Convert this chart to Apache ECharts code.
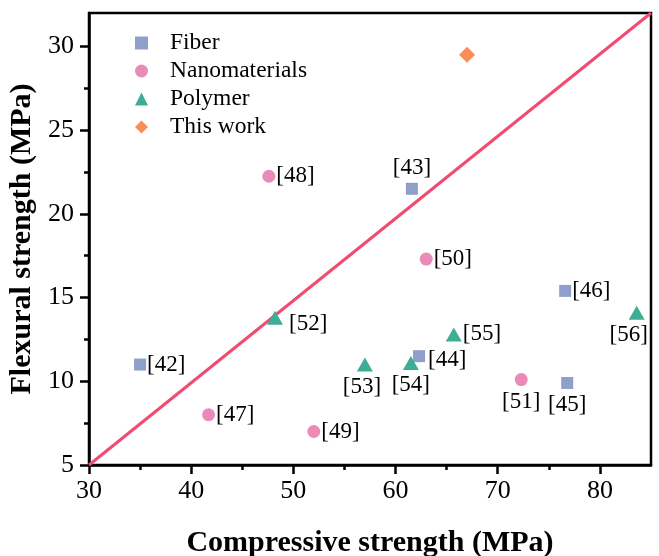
<!DOCTYPE html>
<html>
<head>
<meta charset="utf-8">
<script src="https://cdn.jsdelivr.net/npm/echarts@6/dist/echarts.min.js"></script>
<style>html,body{margin:0;padding:0;background:#fff}#c{width:659px;height:556px}</style>
</head>
<body>
<div id="c"></div>
<script>
// ---- data ----
const xTicks = [30, 40, 50, 60, 70, 80];
const xMinorTicks = [35, 45, 55, 65, 75];
const yTicks = [5, 10, 15, 20, 25, 30];
const yMinorTicks = [7.5, 12.5, 17.5, 22.5, 27.5];

const fiberX = [35.0, 61.6, 62.3, 76.8, 76.6];
const fiberY = [11.0, 21.5, 11.5, 9.9, 15.4];
const fiberRefs = ['[42]', '[43]', '[44]', '[45]', '[46]'];

const nanoX = [41.7, 47.6, 52.0, 63.0, 72.3];
const nanoY = [8.0, 22.25, 7.0, 17.3, 10.1];
const nanoRefs = ['[47]', '[48]', '[49]', '[50]', '[51]'];

const polyX = [48.2, 57.0, 61.5, 65.7, 83.6];
const polyY = [13.8, 11.0, 11.1, 12.8, 14.1];
const polyRefs = ['[52]', '[53]', '[54]', '[55]', '[56]'];

const thisX = [67.0];
const thisY = [29.5];

const refLineX = [30, 85];
const refLineY = [5, 32];

// ---- styles ----
const FONT = '"Liberation Serif", "Times New Roman", serif';
const labelStyle = {
  '[43]': { position: 'top', distance: 3 },
  '[45]': { position: 'bottom', distance: 4 },
  '[51]': { position: 'bottom', distance: 4 },
  '[53]': { position: 'bottom', distance: 4, offset: [-3, 0] },
  '[54]': { position: 'bottom', distance: 4 },
  '[56]': { position: 'bottom', distance: 4, offset: [-8, 0] },
  '[52]': { position: 'right', distance: 6, offset: [0, 6] },
  '[44]': { position: 'right', distance: 3, offset: [0, 4] }
};
function pts(xs, ys, refs) {
  return xs.map((x, i) => {
    const d = { value: [x, ys[i]], name: refs ? refs[i] : '' };
    if (refs) {
      const s = labelStyle[refs[i]] || { position: 'right', distance: 1 };
      d.label = Object.assign({ show: true, formatter: refs[i] }, s);
    }
    return d;
  });
}
const lbl = { show: true, color: '#000', fontFamily: FONT, fontSize: 23, position: 'right', distance: 1 };

const chart = echarts.init(document.getElementById('c'), null, { renderer: 'canvas' });
const axisBase = {
  axisLine: { show: true, lineStyle: { color: '#000', width: 2.5 } },
  splitLine: { show: false },
  axisLabel: { color: '#000', fontFamily: FONT, fontSize: 26 }
};
chart.setOption({
  animation: false,
  backgroundColor: '#fff',
  grid: { left: 89, right: 8, top: 13, bottom: 91, show: true, borderColor: '#000', borderWidth: 2.5, containLabel: false, outerBoundsMode: 'none' },
  legend: {
    left: 130, top: 26, orient: 'vertical', itemGap: 4, itemWidth: 13, itemHeight: 13,
    textStyle: { fontFamily: FONT, fontSize: 23.5, color: '#000', padding: [0, 0, 0, 17] },
    data: [
      { name: 'Fiber', icon: 'rect' },
      { name: 'Nanomaterials', icon: 'circle' },
      { name: 'Polymer', icon: 'triangle' },
      { name: 'This work', icon: 'diamond' }
    ]
  },
  xAxis: [
    Object.assign({}, axisBase, {
      type: 'value', min: 30, max: 85,
      name: 'Compressive strength (MPa)', nameLocation: 'middle', nameGap: 63,
      nameTextStyle: { fontFamily: FONT, fontSize: 30, fontWeight: 'bold', color: '#000' },
      axisTick: { show: true, length: 9, lineStyle: { width: 2.5, color: '#000' }, customValues: xTicks },
      axisLabel: Object.assign({}, axisBase.axisLabel, { margin: 13, customValues: xTicks })
    }),
    {
      type: 'value', min: 30, max: 85, position: 'bottom',
      axisLine: { show: false }, splitLine: { show: false },
      axisLabel: { show: false, customValues: xMinorTicks },
      axisTick: { show: true, length: 5, lineStyle: { width: 2.5, color: '#000' }, customValues: xMinorTicks }
    }
  ],
  yAxis: [
    Object.assign({}, axisBase, {
      type: 'value', min: 5, max: 32,
      name: 'Flexural strength (MPa)', nameLocation: 'middle', nameGap: 44,
      nameTextStyle: { fontFamily: FONT, fontSize: 30, fontWeight: 'bold', color: '#000' },
      axisTick: { show: true, length: 9, lineStyle: { width: 2.5, color: '#000' }, customValues: yTicks },
      axisLabel: Object.assign({}, axisBase.axisLabel, { margin: 15, customValues: yTicks })
    }),
    {
      type: 'value', min: 5, max: 32, position: 'left',
      axisLine: { show: false }, splitLine: { show: false },
      axisLabel: { show: false, customValues: yMinorTicks },
      axisTick: { show: true, length: 5, lineStyle: { width: 2.5, color: '#000' }, customValues: yMinorTicks }
    }
  ],
  series: [
    {
      name: 'ref', type: 'line', data: refLineX.map((x, i) => [x, refLineY[i]]),
      symbol: 'none', lineStyle: { color: '#f24b72', width: 3 }, z: 1, silent: true
    },
    {
      name: 'Fiber', type: 'scatter', symbol: 'rect', symbolSize: 12,
      itemStyle: { color: '#8d9fca', opacity: 1 }, label: lbl, data: pts(fiberX, fiberY, fiberRefs), z: 3
    },
    {
      name: 'Nanomaterials', type: 'scatter', symbol: 'circle', symbolSize: 13,
      itemStyle: { color: '#e98bb9', opacity: 1 }, label: lbl, data: pts(nanoX, nanoY, nanoRefs), z: 3
    },
    {
      name: 'Polymer', type: 'scatter', symbol: 'triangle', symbolSize: [16, 14],
      itemStyle: { color: '#3ead96', opacity: 1 }, label: lbl, data: pts(polyX, polyY, polyRefs), z: 3
    },
    {
      name: 'This work', type: 'scatter', symbol: 'diamond', symbolSize: 16,
      itemStyle: { color: '#fc8d59', opacity: 1 }, data: pts(thisX, thisY, null), z: 3
    }
  ]
});
</script>
</body>
</html>
